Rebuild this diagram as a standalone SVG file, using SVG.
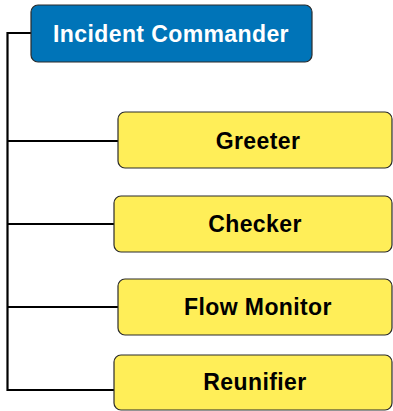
<svg xmlns="http://www.w3.org/2000/svg" width="393" height="411" viewBox="0 0 393 411">
<style>
.box{stroke:#2b2b2b;stroke-width:1.2}
.ic{fill:#0074B8}
.role{fill:#FFEE58}
.lbl{font-family:"Liberation Sans",Arial,sans-serif;font-weight:bold;font-size:23px;letter-spacing:0.4px;text-anchor:middle}
.conn{fill:none;stroke:#000;stroke-width:2.2}
</style>
<rect width="393" height="411" fill="#fff"/>
<g id="connectors">
<path class="conn" d="M31 33H7.5V390H114"/>
<path class="conn" d="M7.5 141H118"/>
<path class="conn" d="M7.5 224H114"/>
<path class="conn" d="M7.5 307H118"/>
</g>
<g id="incident-commander">
<rect class="box ic" x="31" y="5" width="281" height="57" rx="7"/>
<text class="lbl" x="171" y="41.5" fill="#fff">Incident Commander</text>
</g>
<g id="greeter">
<rect class="box role" x="118" y="112" width="274" height="56" rx="7"/>
<text class="lbl" x="258" y="148.5" fill="#000">Greeter</text>
</g>
<g id="checker">
<rect class="box role" x="114" y="196" width="278" height="56" rx="7"/>
<text class="lbl" x="255" y="231.5" fill="#000">Checker</text>
</g>
<g id="flow-monitor">
<rect class="box role" x="118" y="279" width="274" height="56" rx="7"/>
<text class="lbl" x="258" y="315" fill="#000">Flow Monitor</text>
</g>
<g id="reunifier">
<rect class="box role" x="114" y="355" width="278" height="55" rx="7"/>
<text class="lbl" x="255" y="390" fill="#000">Reunifier</text>
</g>
</svg>
